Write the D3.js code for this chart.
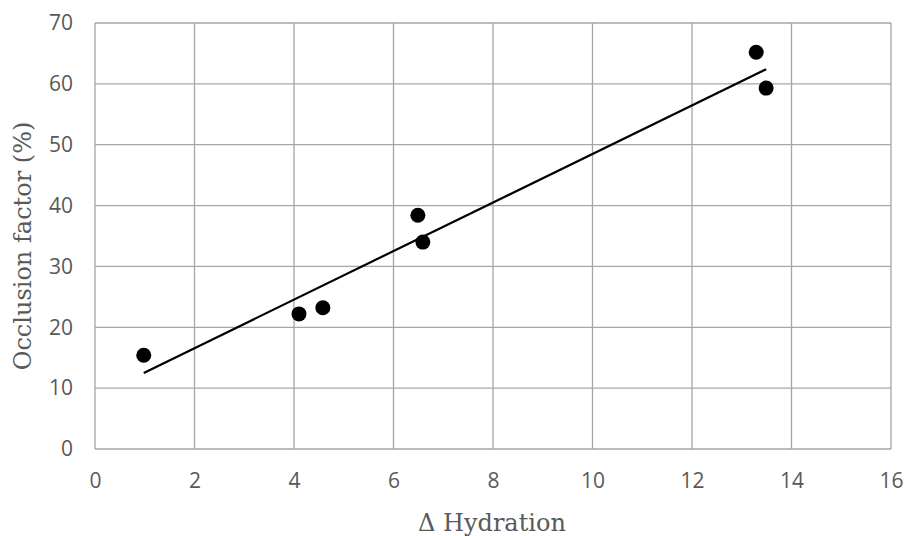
<!DOCTYPE html>
<html>
<head>
<meta charset="utf-8">
<script src="https://cdn.jsdelivr.net/npm/d3@7"></script>
<style>
  body { margin: 0; background: #fff; }
  svg { display: block; }
  .tick text { font-family: "Open Sans", sans-serif; font-size: 21px; fill: #595959; }
  .title { font-family: "DejaVu Serif", serif; font-size: 24px; fill: #595959; }
</style>
</head>
<body>
<svg id="chart" width="906" height="536"></svg>
<script>
// data
var hydration = [0.98, 4.1, 4.58, 6.49, 6.59, 13.29, 13.49];
var occlusion = [15.4, 22.2, 23.2, 38.4, 34.0, 65.2, 59.3];
var xTicks = [0, 2, 4, 6, 8, 10, 12, 14, 16];
var yTicks = [0, 10, 20, 30, 40, 50, 60, 70];

var margin = {top: 23, right: 15, bottom: 87, left: 95},
    width = 906 - margin.left - margin.right,
    height = 536 - margin.top - margin.bottom;

var svg = d3.select("#chart");
var chart = svg.append("g")
    .attr("transform", "translate(" + margin.left + "," + margin.top + ")");

var x = d3.scaleLinear().domain([0, 16]).range([0, width]);
var y = d3.scaleLinear().domain([0, 70]).range([height, 0]);

// grid
chart.append("g").selectAll("line")
    .data(xTicks).enter().append("line")
    .attr("x1", function(d) { return x(d); })
    .attr("x2", function(d) { return x(d); })
    .attr("y1", 0).attr("y2", height)
    .attr("stroke", "#a6a6a6").attr("stroke-width", 1.3);
chart.append("g").selectAll("line")
    .data(yTicks).enter().append("line")
    .attr("y1", function(d) { return y(d); })
    .attr("y2", function(d) { return y(d); })
    .attr("x1", 0).attr("x2", width)
    .attr("stroke", "#a6a6a6").attr("stroke-width", 1.3);

// axes (labels only)
var xAxis = chart.append("g")
    .attr("transform", "translate(0," + height + ")")
    .call(d3.axisBottom(x).tickValues(xTicks).tickSize(0).tickPadding(24));
var yAxis = chart.append("g")
    .call(d3.axisLeft(y).tickValues(yTicks).tickSize(0).tickPadding(22));
xAxis.select(".domain").remove();
yAxis.select(".domain").remove();

// linear trendline (least squares)
var mx = d3.mean(hydration), my = d3.mean(occlusion);
var sxy = d3.sum(hydration, function(v, i) { return (v - mx) * (occlusion[i] - my); });
var sxx = d3.sum(hydration, function(v) { return (v - mx) * (v - mx); });
var slope = sxy / sxx, icpt = my - slope * mx;
var ext = d3.extent(hydration);
chart.append("path")
    .datum(ext)
    .attr("d", d3.line()
        .x(function(d) { return x(d); })
        .y(function(d) { return y(slope * d + icpt); }))
    .attr("stroke", "#000").attr("stroke-width", 2.2).attr("fill", "none");

// points
chart.selectAll("circle")
    .data(hydration).enter().append("circle")
    .attr("cx", function(d) { return x(d); })
    .attr("cy", function(d, i) { return y(occlusion[i]); })
    .attr("r", 7.5)
    .attr("fill", "#000");

// titles
svg.append("text").attr("class", "title")
    .attr("x", 492).attr("y", 531)
    .attr("text-anchor", "middle")
    .text("Δ Hydration");
svg.append("text").attr("class", "title")
    .attr("transform", "translate(31,246) rotate(-90)")
    .attr("text-anchor", "middle")
    .text("Occlusion factor (%)");
</script>
</body>
</html>
